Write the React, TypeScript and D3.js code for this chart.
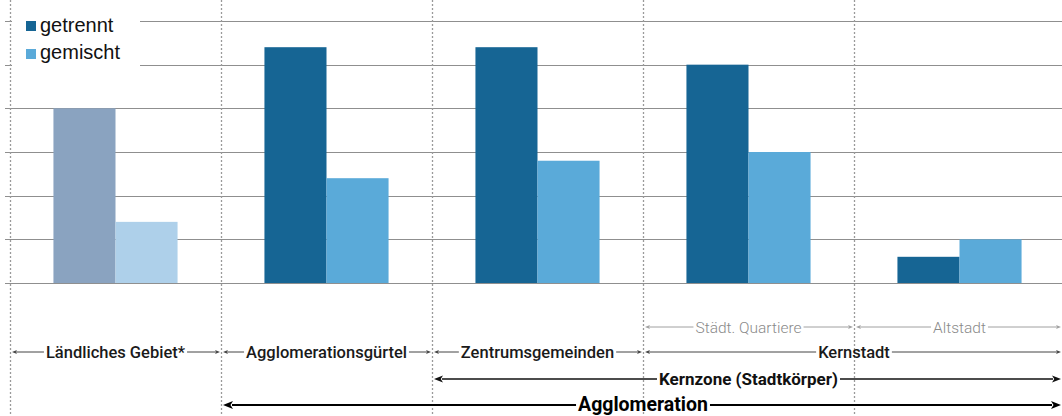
import { useEffect, useRef } from 'react';
import * as d3 from 'd3';

// Kategorien und Werte
const categories = ['Ländliches Gebiet*', 'Agglomerationsgürtel', 'Zentrumsgemeinden', 'Städt. Quartiere', 'Altstadt'];
const seriesNames = ['getrennt', 'gemischt'];
const getrennt = [4.0, 5.4, 5.4, 5.0, 0.6];
const gemischt = [1.4, 2.4, 2.8, 3.0, 1.0];
const yTicks = [0, 1, 2, 3, 4, 5, 6];

// Bereichs-Beschriftungen unter dem Diagramm (von/bis = Kategorie-Index)
const spansRow1 = [
  { label: 'Städt. Quartiere', from: 3, to: 3 },
  { label: 'Altstadt', from: 4, to: 4 },
];
const spansRow2 = [
  { label: 'Ländliches Gebiet*', from: 0, to: 0 },
  { label: 'Agglomerationsgürtel', from: 1, to: 1 },
  { label: 'Zentrumsgemeinden', from: 2, to: 2 },
  { label: 'Kernstadt', from: 3, to: 4 },
];
const spansRow3 = [{ label: 'Kernzone (Stadtkörper)', from: 2, to: 4 }];
const spansRow4 = [{ label: 'Agglomeration', from: 1, to: 4 }];

const App: React.FC = () => {
  const svgRef = useRef<SVGSVGElement | null>(null);

  useEffect(() => {
    if (svgRef.current === null) return;
    const width = 1062;
    const height = 416;

    const svg = d3.select(svgRef.current).attr('width', width).attr('height', height);
    svg.selectAll('*').remove();

    const x = d3.scaleBand<string>().domain(categories).range([10, 1065]).padding(0);
    const xInner = d3.scaleBand<string>().domain(seriesNames).range([0, x.bandwidth()]).paddingInner(0).paddingOuter(0.7);
    const y = d3.scaleLinear().domain([0, 6]).range([283, 21]);

    // Gitterlinien
    svg
      .selectAll('.grid')
      .data(yTicks)
      .enter()
      .append('line')
      .attr('x1', 5)
      .attr('x2', width)
      .attr('y1', (d) => Math.round(y(d)) + 0.5)
      .attr('y2', (d) => Math.round(y(d)) + 0.5)
      .attr('stroke', '#8f8f8f')
      .attr('stroke-width', 1);

    // Balken
    const colors: Record<string, string[]> = {
      getrennt: ['#8aa3c0', '#166594'],
      gemischt: ['#aed0ea', '#5aaad9'],
    };
    const values: Record<string, number[]> = { getrennt, gemischt };
    seriesNames.forEach((s) => {
      svg
        .selectAll(`.bar-${s}`)
        .data(categories)
        .enter()
        .append('rect')
        .attr('x', (d) => x(d)! + xInner(s)!)
        .attr('y', (d, i) => y(values[s][i]))
        .attr('width', xInner.bandwidth())
        .attr('height', (d, i) => y(0) - y(values[s][i]))
        .attr('fill', (d, i) => (i === 0 ? colors[s][0] : colors[s][1]));
    });

    // Legende (weisser Hintergrund ueber den Gitterlinien)
    const legend = svg.append('g');
    legend.append('rect').attr('x', 12).attr('y', 6).attr('width', 128).attr('height', 62).attr('fill', '#fff');

    // gestrichelte Trennlinien
    svg
      .selectAll('.sep')
      .data(categories)
      .enter()
      .append('line')
      .attr('x1', (d) => x(d)! + 0.5)
      .attr('x2', (d) => x(d)! + 0.5)
      .attr('y1', 0)
      .attr('y2', height)
      .attr('stroke', '#9a9a9a')
      .attr('stroke-width', 1.3)
      .attr('stroke-dasharray', '2,2');

    seriesNames.forEach((s, i) => {
      legend
        .append('rect')
        .attr('x', 26)
        .attr('y', 21 + i * 28)
        .attr('width', 10)
        .attr('height', 10)
        .attr('fill', colors[s][1]);
      legend
        .append('text')
        .attr('x', 40)
        .attr('y', 32 + i * 27)
        .attr('font-family', 'Liberation Sans, Arial, sans-serif')
        .attr('font-size', 20)
        .attr('fill', '#111')
        .text(s);
    });

    // Bereichspfeile
    const rows = [
      { spans: spansRow1, y: 327, base: 332.5, size: 15.5, weight: 300, color: '#8a8a8a', line: '#a0a0a0', sw: 1, head: 5 },
      { spans: spansRow2, y: 352, base: 358, size: 16.5, weight: 500, color: '#1a1a1a', line: '#444', sw: 1, head: 5 },
      { spans: spansRow3, y: 379, base: 385, size: 17, weight: 700, color: '#111', line: '#111', sw: 1.5, head: 9 },
      { spans: spansRow4, y: 405, base: 411, size: 19.5, weight: 700, color: '#000', line: '#000', sw: 2, head: 10 },
    ];
    rows.forEach((row) => {
      row.spans.forEach((sp) => {
        const x0 = x(categories[sp.from])! + 2;
        const x1 = Math.min(x(categories[sp.to])! + x.bandwidth(), width) - 1;
        const cx = (x(categories[sp.from])! + x(categories[sp.to])! + x.bandwidth()) / 2;
        const g = svg.append('g');
        const t = g
          .append('text')
          .attr('x', cx)
          .attr('y', row.base)
          .attr('text-anchor', 'middle')
          .attr('font-family', 'Roboto, sans-serif')
          .attr('font-size', row.size)
          .attr('font-weight', row.weight)
          .attr('fill', row.color)
          .text(sp.label);
        const tw = (t.node() as SVGTextElement).getComputedTextLength();
        const hw = row.head * 0.4;
        g.append('line')
          .attr('x1', x0 + row.head - 1)
          .attr('x2', cx - tw / 2 - 2)
          .attr('y1', row.y)
          .attr('y2', row.y)
          .attr('stroke', row.line)
          .attr('stroke-width', row.sw);
        g.append('line')
          .attr('x1', cx + tw / 2 + 2)
          .attr('x2', x1 - row.head + 1)
          .attr('y1', row.y)
          .attr('y2', row.y)
          .attr('stroke', row.line)
          .attr('stroke-width', row.sw);
        g.append('path')
          .attr('d', `M${x0},${row.y}L${x0 + row.head},${row.y - hw}L${x0 + row.head * 0.75},${row.y}L${x0 + row.head},${row.y + hw}Z`)
          .attr('fill', row.line);
        g.append('path')
          .attr('d', `M${x1},${row.y}L${x1 - row.head},${row.y - hw}L${x1 - row.head * 0.75},${row.y}L${x1 - row.head},${row.y + hw}Z`)
          .attr('fill', row.line);
      });
    });
  }, []);

  return <svg ref={svgRef} style={{ position: 'absolute', left: 0, top: 0, background: '#fff' }}></svg>;
};

export default App;
